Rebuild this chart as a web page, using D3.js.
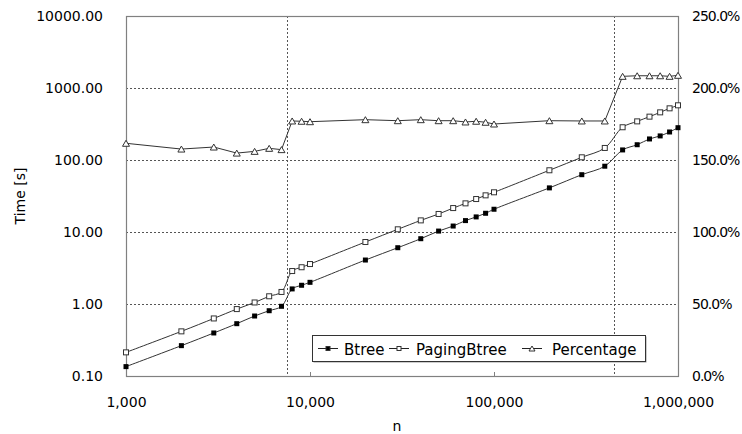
<!DOCTYPE html>
<html>
<head>
<meta charset="utf-8">
<script src="https://cdnjs.cloudflare.com/ajax/libs/d3/7.8.5/d3.min.js"></script>
<style>
  body { margin: 0; background: #fff; }
  text { font-family: "DejaVu Sans", sans-serif; fill: #000; }
</style>
</head>
<body>
<div id="main"></div>
<script>
// **** Data ****
var nValues = [1000, 2000, 3000, 4000, 5000, 6000, 7000, 8000, 9000,
  10000, 20000, 30000, 40000, 50000, 60000, 70000, 80000, 90000,
  100000, 200000, 300000, 400000, 500000, 600000, 700000, 800000, 900000, 1000000];
var btree = [0.135, 0.264, 0.396, 0.533, 0.681, 0.807, 0.929, 1.62, 1.82,
  2.0, 4.08, 6.05, 8.07, 10.3, 12.1, 14.4, 16.2, 18.2,
  20.7, 41, 62.5, 82, 138, 163, 196, 216, 245, 281];
var pagingBtree = [0.213, 0.417, 0.63, 0.85, 1.05, 1.28, 1.47, 2.87, 3.24,
  3.59, 7.26, 10.9, 14.5, 17.8, 21.5, 25.0, 28.7, 32.3,
  35.6, 72, 109, 147, 285, 344, 400, 459, 522, 575];
var percentage = [161.6, 157.6, 159.0, 154.8, 156.0, 158.1, 157.2, 177.1, 176.9,
  176.6, 178.0, 177.3, 178.0, 177.3, 177.3, 176.4, 176.9, 176.2,
  175.0, 177.3, 177.1, 177.1, 208.1, 208.5, 208.5, 208.5, 208.1, 208.8];
var markerLines = [7500, 450000];
var timeTicks = [0.1, 1, 10, 100, 1000, 10000];
var nTicks = [1000, 10000, 100000, 1000000];
var pctTicks = [0, 50, 100, 150, 200, 250];

// **** Dimensions ****
var margin = {top: 16, right: 64, bottom: 58, left: 126},
    width = 742 - margin.left - margin.right,
    height = 434 - margin.top - margin.bottom;

var svg = d3.select("#main")
  .append("svg")
    .attr("width", 742)
    .attr("height", 434)
  .append("g")
    .attr("transform", "translate(" + margin.left + "," + margin.top + ")");

// **** Scales ****
var x = d3.scaleLog().domain([1000, 1000000]).range([0, width]);
var y = d3.scaleLog().domain([0.1, 10000]).range([height, 0]);
var y2 = d3.scaleLinear().domain([0, 250]).range([height, 0]);

// **** Grid lines ****
svg.append("g")
  .selectAll("line")
  .data(timeTicks.slice(1, -1))
  .enter()
  .append("line")
    .attr("x1", 0)
    .attr("x2", width)
    .attr("y1", function(d) { return Math.round(y(d)) + 0.5; })
    .attr("y2", function(d) { return Math.round(y(d)) + 0.5; })
    .style("stroke", "#555")
    .style("stroke-dasharray", "2,2");

svg.append("g")
  .selectAll("line")
  .data(markerLines)
  .enter()
  .append("line")
    .attr("x1", function(d) { return Math.round(x(d)) + 0.5; })
    .attr("x2", function(d) { return Math.round(x(d)) + 0.5; })
    .attr("y1", 0)
    .attr("y2", height)
    .style("stroke", "#555")
    .style("stroke-dasharray", "2,2");

// **** Axes ****
var fmtTime = d3.format(".2f");
var fmtN = d3.format(",");
var fmtPct = function(d) { return d3.format(".1f")(d) + "%"; };

var yAxis = svg.append("g")
  .call(d3.axisLeft(y).tickValues(timeTicks).tickFormat(fmtTime).tickSize(0).tickPadding(23));
var xAxis = svg.append("g")
  .attr("transform", "translate(0," + height + ")")
  .call(d3.axisBottom(x).tickValues(nTicks).tickFormat(fmtN).tickSize(-4).tickPadding(21));
var y2Axis = svg.append("g")
  .attr("transform", "translate(" + width + ",0)")
  .call(d3.axisRight(y2).tickValues(pctTicks).tickFormat(fmtPct).tickSize(0).tickPadding(14));

[yAxis, xAxis, y2Axis].forEach(function(a) {
  a.select(".domain").remove();
  a.selectAll("text").style("font-size", "14px");
  a.selectAll(".tick line").style("stroke", "#808080");
});
y2Axis.selectAll("text").style("letter-spacing", "-1px");

// plot frame
svg.append("rect")
  .attr("x", 0.5)
  .attr("y", 0.5)
  .attr("width", width)
  .attr("height", height)
  .style("fill", "none")
  .style("stroke", "#808080")
  .style("stroke-width", 1.2);

// **** Axis titles ****
svg.append("text")
  .attr("transform", "translate(" + (21 - margin.left) + "," + (height / 2) + ") rotate(-90)")
  .attr("text-anchor", "middle")
  .attr("dominant-baseline", "middle")
  .style("font-size", "14px")
  .text("Time [s]");

svg.append("text")
  .attr("x", width / 2 - 5)
  .attr("y", height + 55)
  .attr("text-anchor", "middle")
  .style("font-size", "14px")
  .text("n");

// **** Series ****
var rows = nValues.map(function(n, i) {
  return {n: n, btree: btree[i], paging: pagingBtree[i], pct: percentage[i]};
});

var smoothLine = function(key) {
  return d3.line()
    .x(function(d) { return x(d.n); })
    .y(function(d) { return y(d[key]); })
    .curve(d3.curveCatmullRom.alpha(0.5));
};

svg.append("path")
  .datum(rows)
  .attr("d", smoothLine("paging"))
  .style("fill", "none")
  .style("stroke", "#333")
  .style("stroke-width", 1);

svg.append("path")
  .datum(rows)
  .attr("d", smoothLine("btree"))
  .style("fill", "none")
  .style("stroke", "#333")
  .style("stroke-width", 1);

svg.append("path")
  .datum(rows)
  .attr("d", d3.line()
    .x(function(d) { return x(d.n); })
    .y(function(d) { return y2(d.pct); }))
  .style("fill", "none")
  .style("stroke", "#333")
  .style("stroke-width", 1);

// markers
var sq = 5;
var tri = "M0,-3L3.5,3L-3.5,3Z";

svg.append("g")
  .selectAll("rect")
  .data(rows)
  .enter()
  .append("rect")
    .attr("x", function(d) { return x(d.n) - sq / 2; })
    .attr("y", function(d) { return y(d.paging) - sq / 2; })
    .attr("width", sq)
    .attr("height", sq)
    .style("fill", "#fff")
    .style("stroke", "#333")
    .style("stroke-width", 1);

svg.append("g")
  .selectAll("rect")
  .data(rows)
  .enter()
  .append("rect")
    .attr("x", function(d) { return x(d.n) - sq / 2; })
    .attr("y", function(d) { return y(d.btree) - sq / 2; })
    .attr("width", sq)
    .attr("height", sq)
    .style("fill", "#000");

svg.append("g")
  .selectAll("path")
  .data(rows)
  .enter()
  .append("path")
    .attr("d", tri)
    .attr("transform", function(d) { return "translate(" + x(d.n) + "," + y2(d.pct) + ")"; })
    .style("fill", "#fff")
    .style("stroke", "#333")
    .style("stroke-width", 1);

// **** Legend ****
var legend = svg.append("g")
  .attr("transform", "translate(" + (312 - margin.left) + "," + (335 - margin.top) + ")");

legend.append("rect")
  .attr("x", 1.5).attr("y", 1.5)
  .attr("width", 333).attr("height", 26)
  .style("fill", "#999");
legend.append("rect")
  .attr("x", 0.5).attr("y", 0.5)
  .attr("width", 333).attr("height", 26)
  .style("fill", "#fff")
  .style("stroke", "#333");

var legendItems = [
  {label: "Btree", lx: 6, tx: 32, kind: "filled"},
  {label: "PagingBtree", lx: 77, tx: 104, kind: "open"},
  {label: "Percentage", lx: 210, tx: 240, kind: "tri"}
];

legendItems.forEach(function(it) {
  legend.append("line")
    .attr("x1", it.lx).attr("x2", it.lx + 20)
    .attr("y1", 13.5).attr("y2", 13.5)
    .style("stroke", "#222");
  if (it.kind === "tri") {
    legend.append("path")
      .attr("d", "M0,-2.5L3,2.5L-3,2.5Z")
      .attr("transform", "translate(" + (it.lx + 10) + ",13.5)")
      .style("fill", "#fff").style("stroke", "#333");
  } else {
    legend.append("rect")
      .attr("x", it.lx + 8).attr("y", 11.5)
      .attr("width", 4).attr("height", 4)
      .style("fill", it.kind === "filled" ? "#000" : "#fff")
      .style("stroke", "#333");
  }
  legend.append("text")
    .attr("x", it.tx)
    .attr("y", 19.5)
    .style("font-size", "15px")
    .text(it.label);
});
</script>
</body>
</html>
